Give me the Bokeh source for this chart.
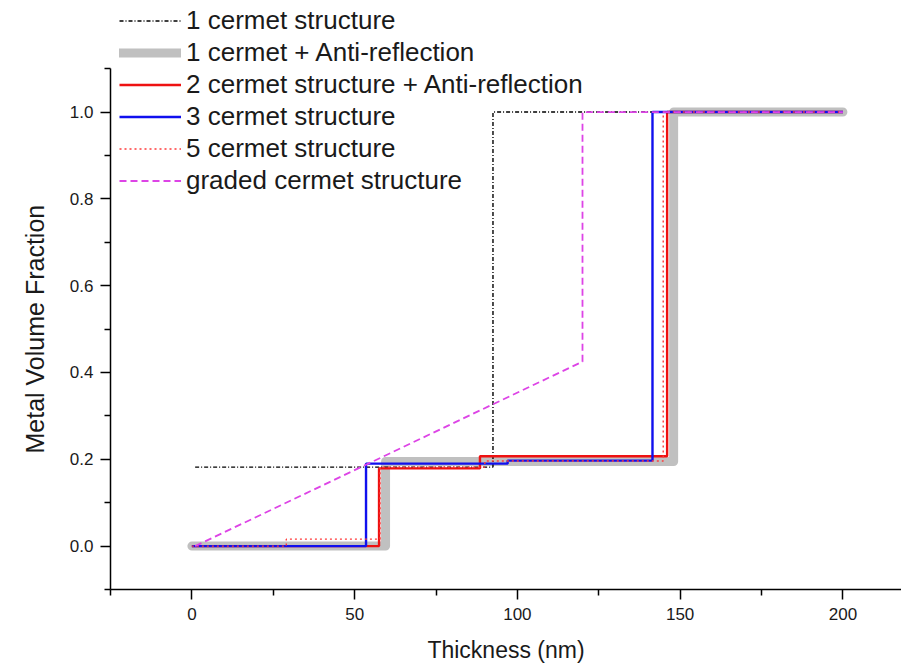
from bokeh.plotting import figure
from bokeh.models import (Legend, LegendItem, FixedTicker, Range1d,
                          PrintfTickFormatter, Title)
from bokeh.embed import file_html
from bokeh.resources import INLINE

# Metal volume fraction profiles versus depth for the different absorber designs
x_one_cermet = [1, 92.5, 92.5, 200]
y_one_cermet = [0.182, 0.182, 1.0, 1.0]

x_one_ar = [0, 59.5, 59.5, 148, 148, 200]
y_one_ar = [0.0, 0.0, 0.195, 0.195, 1.0, 1.0]

x_two_ar = [0, 57.5, 57.5, 88.5, 88.5, 146, 146, 200]
y_two_ar = [0.0, 0.0, 0.179, 0.179, 0.207, 0.207, 1.0, 1.0]

x_three = [0, 53.5, 53.5, 97, 97, 141.5, 141.5, 200]
y_three = [0.0, 0.0, 0.19, 0.19, 0.197, 0.197, 1.0, 1.0]

x_five = [0, 29, 29, 57.8, 57.8, 90, 90, 144.8, 144.8, 200]
y_five = [0.0, 0.0, 0.016, 0.016, 0.182, 0.182, 0.196, 0.196, 1.0, 1.0]

x_graded = [1, 120, 120, 200]
y_graded = [0.0, 0.425, 1.0, 1.0]

legend_labels = [
    "1 cermet structure",
    "1 cermet + Anti-reflection",
    "2 cermet structure + Anti-reflection",
    "3 cermet structure",
    "5 cermet structure",
    "graded cermet structure",
]

x_ticks = [0, 50, 100, 150, 200]
y_ticks = [0.0, 0.2, 0.4, 0.6, 0.8, 1.0]

FONT = "Liberation Sans"

# The frame runs up to the top edge so the legend above the axis stays visible;
# the y axis itself is bounded to -0.1 .. 1.1.
p = figure(
    width=901, height=669,
    x_range=Range1d(-25, 218), y_range=Range1d(-0.1, 1.257),
    output_backend="svg", toolbar_location=None,
    min_border_left=110, min_border_right=0,
    min_border_top=0, min_border_bottom=80,
)
p.outline_line_color = None
p.grid.visible = False
p.background_fill_color = "white"
p.border_fill_color = "white"

for ax in (p.xaxis[0], p.yaxis[0]):
    ax.axis_line_color = "black"
    ax.axis_line_width = 1.5
    ax.major_tick_line_color = "black"
    ax.minor_tick_line_color = "black"
    ax.major_tick_line_width = 1.5
    ax.minor_tick_line_width = 1.5
    ax.major_tick_out = 10
    ax.major_tick_in = 0
    ax.minor_tick_out = 6
    ax.minor_tick_in = 0
    ax.major_label_text_font = FONT
    ax.major_label_text_font_size = "17px"
    ax.major_label_text_color = "#1a1a1a"
    ax.axis_label_text_font = FONT
    ax.axis_label_text_font_style = "normal"
    ax.axis_label_text_color = "#1a1a1a"

p.yaxis.bounds = (-0.1, 1.1)
p.xaxis.axis_label_text_font_size = "23px"
p.xaxis.ticker = FixedTicker(ticks=x_ticks, minor_ticks=[-25, 25, 75, 125, 175, 225])
p.yaxis.ticker = FixedTicker(ticks=y_ticks, minor_ticks=[-0.1, 0.1, 0.3, 0.5, 0.7, 0.9, 1.1])
p.yaxis.formatter = PrintfTickFormatter(format="%.1f")
p.xaxis.major_label_standoff = 8
p.yaxis.major_label_standoff = 7
p.xaxis.axis_label = "Thickness (nm)"
p.xaxis.axis_label_standoff = 14

# y axis title, centred on the bounded axis rather than on the full frame
y_title = Title(text="Metal Volume Fraction", align="left", offset=136,
                text_font=FONT, text_font_size="25px", text_font_style="normal",
                text_color="#1a1a1a", standoff=36)
p.add_layout(y_title, "left")

r_ar = p.line(x_one_ar, y_one_ar, line_color="#c0c0c0", line_width=9,
              line_cap="round", line_join="round")
r_one = p.line(x_one_cermet, y_one_cermet, line_color="black", line_width=1.4,
               line_dash="4 2 1 2")
r_two = p.line(x_two_ar, y_two_ar, line_color="#ee1111", line_width=2.4)
r_three = p.line(x_three, y_three, line_color="#1010ee", line_width=2.4)
r_five = p.line(x_five, y_five, line_color="#ff3a3a", line_width=1.4,
                line_dash="2 3")
r_graded = p.line(x_graded, y_graded, line_color="#dd44e6", line_width=1.8,
                  line_dash="7 4")

renderers = [r_one, r_ar, r_two, r_three, r_five, r_graded]
items = [LegendItem(label=lab, renderers=[r]) for lab, r in zip(legend_labels, renderers)]
# location gives the legend's lower-left corner, in pixels from the frame's lower-left
legend = Legend(
    items=items, location=(9, 393),
    padding=0, margin=0, spacing=1,
    glyph_width=62, glyph_height=29, label_height=29, label_standoff=5,
    label_text_font=FONT, label_text_font_size="26px", label_text_color="#1a1a1a",
    border_line_color=None, background_fill_alpha=0,
)
p.add_layout(legend, "center")

open("out.html", "w").write(file_html(p, INLINE))
